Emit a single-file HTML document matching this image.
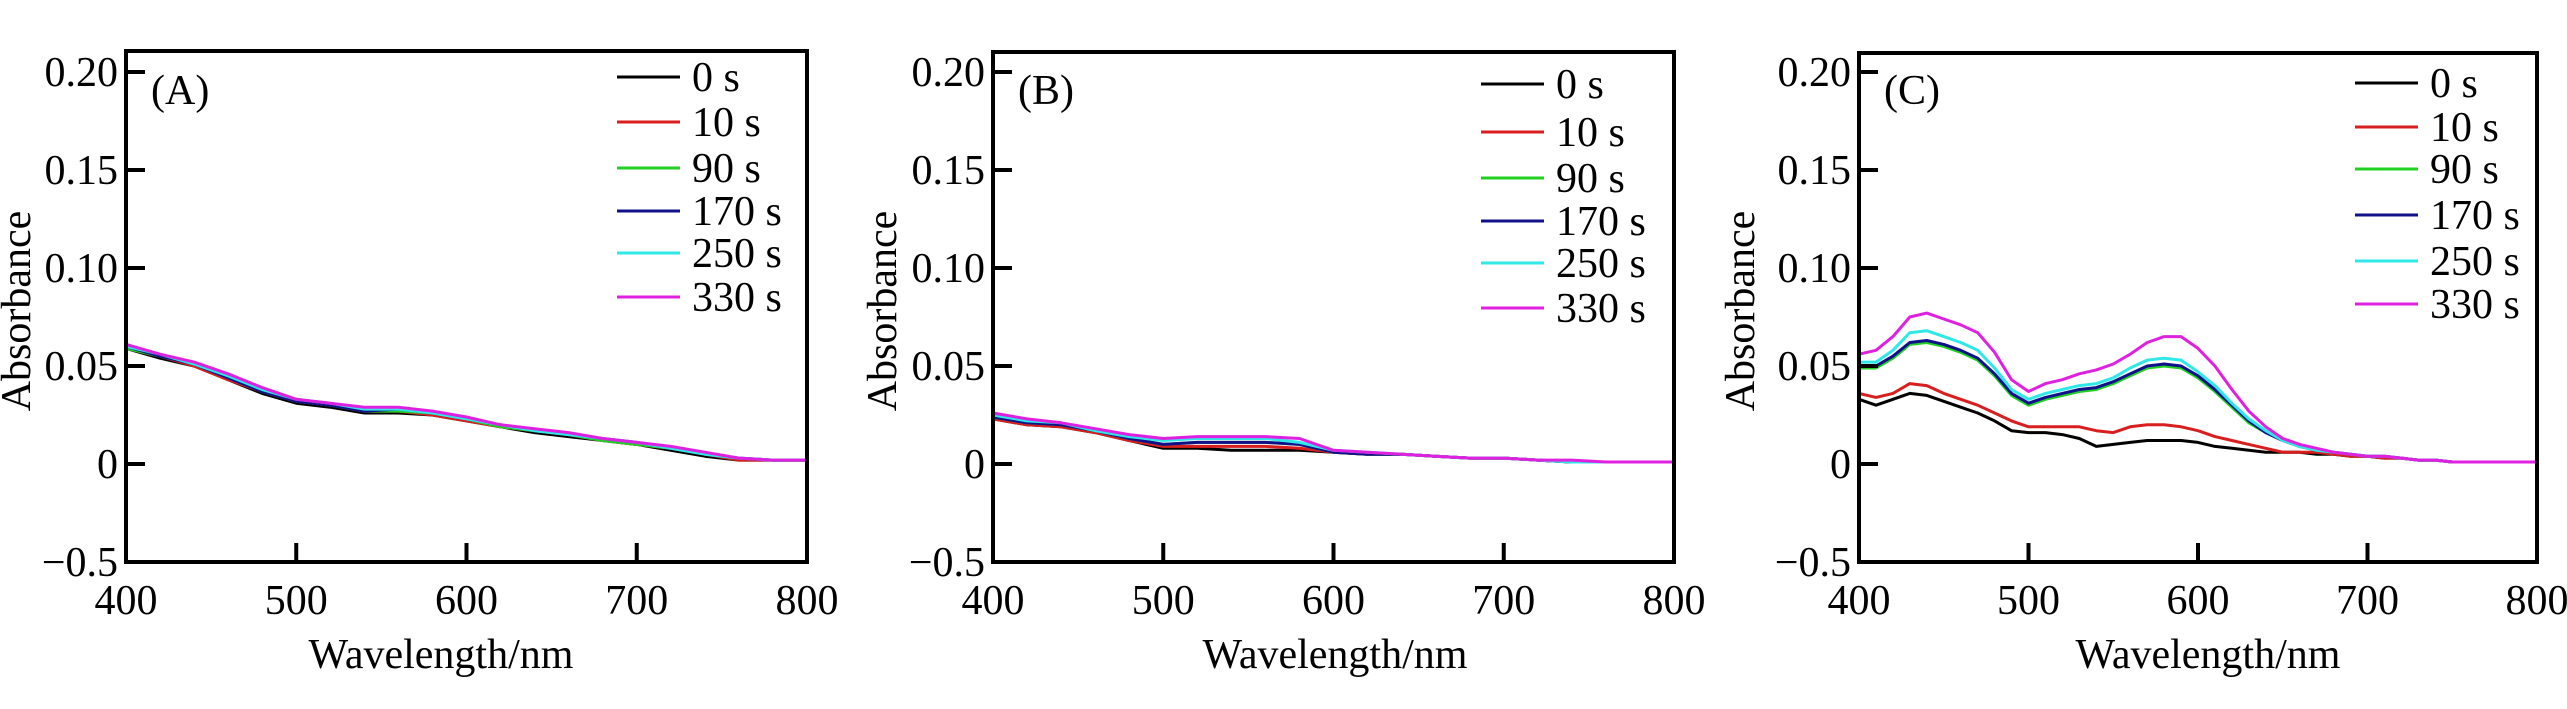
<!DOCTYPE html>
<html><head><meta charset="utf-8">
<style>
html,body{margin:0;padding:0;background:#fff;font-family:'Liberation Serif',serif;}
svg{display:block;}
</style></head>
<body>
<svg id="chart" width="2567" height="709" viewBox="0 0 2567 709" xmlns="http://www.w3.org/2000/svg" style="font-family:'Liberation Serif',serif"></svg>
<script>
const seriesLabels = ["0 s","10 s","90 s","170 s","250 s","330 s"];
const xTicks = [400,500,600,700,800];
const yTicks = [0.20,0.15,0.10,0.05,0,-0.05];
const yTickLabels = ["0.20","0.15","0.10","0.05","0","\u22120.5"];

const wlA = [400,420,440,460,480,500,520,540,560,580,600,620,640,660,680,700,720,740,760,780,800];
const a0 = [0.059,0.054,0.050,0.043,0.036,0.031,0.029,0.026,0.026,0.025,0.022,0.019,0.016,0.014,0.012,0.010,0.007,0.004,0.002,0.002,0.002];
const a10 = [0.059,0.055,0.050,0.043,0.037,0.032,0.030,0.027,0.027,0.025,0.022,0.019,0.017,0.015,0.012,0.010,0.008,0.005,0.002,0.002,0.002];
const a90 = [0.059,0.055,0.051,0.044,0.037,0.032,0.030,0.027,0.027,0.026,0.023,0.019,0.017,0.015,0.012,0.010,0.008,0.005,0.003,0.002,0.002];
const a170 = [0.060,0.055,0.051,0.044,0.037,0.032,0.030,0.027,0.028,0.026,0.023,0.020,0.017,0.015,0.013,0.011,0.008,0.005,0.003,0.002,0.002];
const a250 = [0.060,0.056,0.051,0.045,0.038,0.033,0.031,0.028,0.028,0.026,0.023,0.020,0.017,0.015,0.013,0.011,0.008,0.005,0.003,0.002,0.002];
const a330 = [0.061,0.056,0.052,0.046,0.039,0.033,0.031,0.029,0.029,0.027,0.024,0.020,0.018,0.016,0.013,0.011,0.009,0.006,0.003,0.002,0.002];

const wlB = [400,420,440,460,480,500,520,540,560,580,600,620,640,660,680,700,720,740,760,780,800];
const b0 = [0.023,0.020,0.019,0.016,0.012,0.008,0.008,0.007,0.007,0.007,0.006,0.005,0.005,0.004,0.003,0.003,0.002,0.001,0.001,0.001,0.001];
const b10 = [0.023,0.020,0.019,0.016,0.012,0.009,0.009,0.009,0.009,0.008,0.006,0.005,0.005,0.004,0.003,0.003,0.002,0.001,0.001,0.001,0.001];
const b90 = [0.024,0.021,0.020,0.017,0.013,0.010,0.011,0.011,0.011,0.010,0.006,0.005,0.005,0.004,0.003,0.003,0.002,0.001,0.001,0.001,0.001];
const b170 = [0.024,0.021,0.020,0.017,0.013,0.010,0.011,0.011,0.011,0.010,0.006,0.005,0.005,0.004,0.003,0.003,0.002,0.001,0.001,0.001,0.001];
const b250 = [0.025,0.022,0.021,0.017,0.014,0.012,0.013,0.013,0.013,0.011,0.007,0.006,0.005,0.004,0.003,0.003,0.002,0.001,0.001,0.001,0.001];
const b330 = [0.026,0.023,0.021,0.018,0.015,0.013,0.014,0.014,0.014,0.013,0.007,0.006,0.005,0.004,0.003,0.003,0.002,0.002,0.001,0.001,0.001];

const wlC = [400,410,420,430,440,450,460,470,480,490,500,510,520,530,540,550,560,570,580,590,600,610,620,630,640,650,660,670,680,690,700,710,720,730,740,750,760,770,780,790,800];
const c0 = [0.033,0.030,0.033,0.036,0.035,0.032,0.029,0.026,0.022,0.017,0.016,0.016,0.015,0.013,0.009,0.010,0.011,0.012,0.012,0.012,0.011,0.009,0.008,0.007,0.006,0.006,0.006,0.005,0.005,0.004,0.004,0.003,0.003,0.002,0.002,0.001,0.001,0.001,0.001,0.001,0.001];
const c10 = [0.036,0.034,0.036,0.041,0.040,0.036,0.033,0.030,0.026,0.022,0.019,0.019,0.019,0.019,0.017,0.016,0.019,0.020,0.020,0.019,0.017,0.014,0.012,0.010,0.008,0.006,0.006,0.006,0.005,0.004,0.004,0.003,0.003,0.002,0.002,0.001,0.001,0.001,0.001,0.001,0.001];
const c90 = [0.049,0.049,0.054,0.061,0.062,0.060,0.057,0.053,0.045,0.035,0.030,0.033,0.035,0.037,0.038,0.041,0.045,0.049,0.050,0.049,0.044,0.037,0.029,0.021,0.016,0.012,0.009,0.007,0.006,0.005,0.004,0.004,0.003,0.002,0.002,0.001,0.001,0.001,0.001,0.001,0.001];
const c170 = [0.050,0.050,0.055,0.062,0.063,0.061,0.058,0.054,0.046,0.036,0.031,0.034,0.036,0.038,0.039,0.042,0.046,0.050,0.051,0.050,0.045,0.038,0.030,0.022,0.016,0.012,0.009,0.007,0.006,0.005,0.004,0.004,0.003,0.002,0.002,0.001,0.001,0.001,0.001,0.001,0.001];
const c250 = [0.052,0.052,0.058,0.067,0.068,0.065,0.062,0.058,0.049,0.038,0.033,0.036,0.038,0.040,0.041,0.044,0.049,0.053,0.054,0.053,0.047,0.040,0.031,0.023,0.017,0.012,0.009,0.007,0.006,0.005,0.004,0.004,0.003,0.002,0.002,0.001,0.001,0.001,0.001,0.001,0.001];
const c330 = [0.056,0.058,0.065,0.075,0.077,0.074,0.071,0.067,0.057,0.043,0.037,0.041,0.043,0.046,0.048,0.051,0.056,0.062,0.065,0.065,0.059,0.050,0.038,0.027,0.019,0.013,0.010,0.008,0.006,0.005,0.004,0.004,0.003,0.002,0.002,0.001,0.001,0.001,0.001,0.001,0.001];

const colors = ["#000000","#d81e1e","#22d022","#10108a","#30e8e8","#e020e0"];
const panels = [
  {id:"a", tag:"(A)", left:126, right:807, top:51, wl:wlA, data:[a0,a10,a90,a170,a250,a330], legX:491, legY:[80,125,171,214,256,300], ytitleX:16, xtitleX:441},
  {id:"b", tag:"(B)", left:993, right:1674, top:52, wl:wlB, data:[b0,b10,b90,b170,b250,b330], legX:488, legY:[87,135,181,224,266,311], ytitleX:882, xtitleX:1335},
  {id:"c", tag:"(C)", left:1859, right:2537, top:53, wl:wlC, data:[c0,c10,c90,c170,c250,c330], legX:496, legY:[86,130,172,218,264,307], ytitleX:1740, xtitleX:2208}
];
const NS = "http://www.w3.org/2000/svg";
const svg = document.getElementById("chart");
function mk(tag, attrs, parent){
  const e = document.createElementNS(NS, tag);
  for (const k in attrs) e.setAttribute(k, attrs[k]);
  if (tag === "text") {
    e.style.fontFamily = "'Liberation Serif', 'DejaVu Serif', serif";
    e.style.fill = "#000";
  }
  parent.appendChild(e);
  return e;
}
const BOTTOM = 562;
function yScale(v){ return 464 - v * 1960; }
panels.forEach(p => {
  const xScale = w => p.left + (w - 400) / 400 * (p.right - p.left);
  const g = mk("g", {}, svg);
  
  
  p.data.forEach((arr, si) => {
    const d = arr.map((v, i) => (i ? "L" : "M") + xScale(p.wl[i]).toFixed(1) + "," + yScale(v).toFixed(1)).join(" ");
    const path = mk("path", {d:d, fill:"none", stroke:colors[si], "stroke-width":3, "stroke-linejoin":"round"}, g);
    
    
  });
  const fr = mk("rect", {x:p.left, y:p.top, width:p.right - p.left, height:BOTTOM - p.top, fill:"none", stroke:"#000", "stroke-width":4}, g);
  
  
  yTicks.forEach((t, i) => {
    const y = yScale(t);
    if (i < yTicks.length - 1) {
      const tk = mk("line", {x1:p.left, x2:p.left + 19, y1:y, y2:y, stroke:"#000", "stroke-width":4}, g);
      
      
    }
    const tx = mk("text", {x:p.left - 8, y:y + 14, "text-anchor":"end", "font-size":42}, g);
    tx.textContent = yTickLabels[i];
    
    
  });
  xTicks.forEach(t => {
    const x = xScale(t);
    if (t > 400 && t < 800) {
      const tk = mk("line", {x1:x, x2:x, y1:BOTTOM, y2:BOTTOM - 19, stroke:"#000", "stroke-width":4}, g);
      
      
    }
    const tx = mk("text", {x:x, y:614, "text-anchor":"middle", "font-size":42}, g);
    tx.textContent = String(t);
    
    
  });
  const xt = mk("text", {x:p.xtitleX, y:668, "text-anchor":"middle", "font-size":42}, g);
  xt.textContent = "Wavelength/nm";
  
  
  const yt = mk("text", {x:0, y:0, "text-anchor":"middle", "font-size":42, transform:"translate(" + (p.ytitleX + 14) + ",311) rotate(-90)"}, g);
  yt.textContent = "Absorbance";
  
  
  const pt = mk("text", {x:p.left + 25, y:104, "font-size":42}, g);
  pt.textContent = p.tag;
  
  
  seriesLabels.forEach((lab, si) => {
    const y = p.legY[si];
    const ln = mk("line", {x1:p.left + p.legX, x2:p.left + p.legX + 63, y1:y - 3, y2:y - 3, stroke:colors[si], "stroke-width":3}, g);
    
    
    const lt = mk("text", {x:p.left + p.legX + 75, y:y + 11, "font-size":42}, g);
    lt.textContent = lab;
    
    
  });
});
</script>
</body></html>
